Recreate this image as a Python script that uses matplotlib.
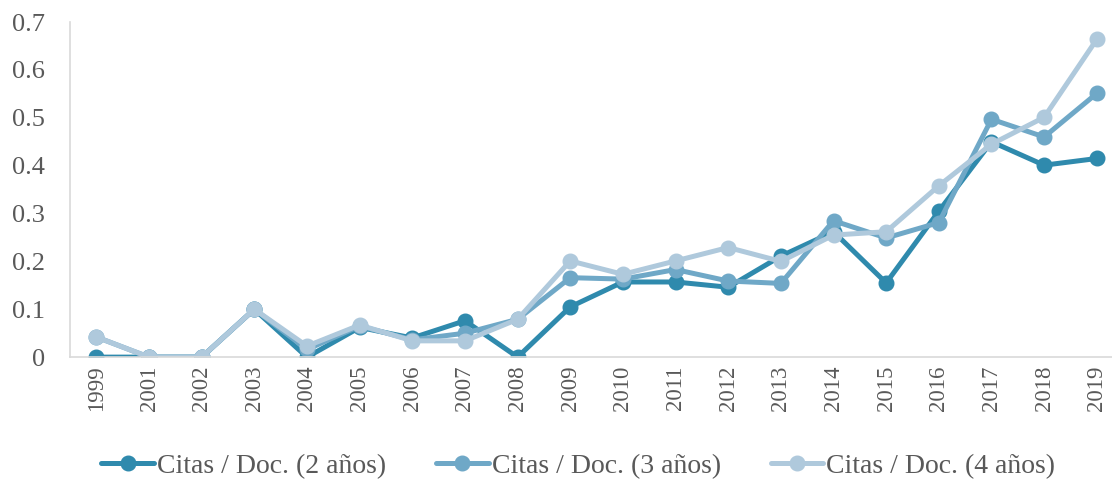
import numpy as np
import matplotlib.pyplot as plt

# ================================
# Data
# ================================
years = ["1999", "2001", "2002", "2003", "2004", "2005", "2006", "2007", "2008", "2009",
         "2010", "2011", "2012", "2013", "2014", "2015", "2016", "2017", "2018", "2019"]

citas_2 = [0.0, 0.0, 0.0, 0.1, 0.0, 0.062, 0.040, 0.076, 0.0, 0.105,
           0.157, 0.157, 0.146, 0.211, 0.262, 0.155, 0.305, 0.450, 0.401, 0.415]
citas_3 = [0.042, 0.0, 0.0, 0.1, 0.016, 0.065, 0.036, 0.050, 0.079, 0.166,
           0.163, 0.183, 0.159, 0.154, 0.285, 0.249, 0.281, 0.497, 0.460, 0.551]
citas_4 = [0.042, 0.0, 0.0, 0.1, 0.023, 0.067, 0.034, 0.034, 0.079, 0.201,
           0.173, 0.201, 0.229, 0.200, 0.255, 0.262, 0.358, 0.445, 0.501, 0.664]

labels = ["Citas / Doc. (2 años)", "Citas / Doc. (3 años)", "Citas / Doc. (4 años)"]
colors = ["#2F8AAD", "#6FA8C7", "#AFC9DC"]

# ================================
# Plot
# ================================
plt.rcParams['font.family'] = ['Liberation Serif', 'DejaVu Serif']
text_color = "#595959"

fig = plt.figure(figsize=(11.12, 4.8), dpi=100)
ax = fig.add_axes([0.063, 0.256, 0.947, 0.698])

x = np.arange(len(years))
for vals, lab, col in zip([citas_2, citas_3, citas_4], labels, colors):
    ax.plot(x, vals, color=col, linewidth=3.6, marker="o", markersize=10.5, label=lab,
            solid_capstyle="round")

ax.set_xlim(-0.5, len(years) - 0.5)
ax.set_ylim(0, 0.7)
ax.set_yticks(np.arange(0, 0.71, 0.1))
ax.set_yticklabels(["0"] + ["%.1f" % v for v in np.arange(0.1, 0.71, 0.1)])
ax.set_xticks(x)
ax.set_xticklabels(years, rotation=90)

ax.tick_params(axis="both", length=0, colors=text_color)
ax.tick_params(axis="y", pad=18, labelsize=19)
ax.tick_params(axis="x", pad=6, labelsize=16.5)

for s in ["top", "right"]:
    ax.spines[s].set_visible(False)
for s in ["left", "bottom"]:
    ax.spines[s].set_color("#D9D9D9")
    ax.spines[s].set_linewidth(1.2)

leg = fig.legend(loc="center", bbox_to_anchor=(0.52, 0.029), ncol=3, frameon=False,
                 fontsize=20, handlelength=1.9, handletextpad=0.1, columnspacing=1.8,
                 borderpad=0, borderaxespad=0)
for t in leg.get_texts():
    t.set_color(text_color)

plt.savefig("out.png", dpi=100)
